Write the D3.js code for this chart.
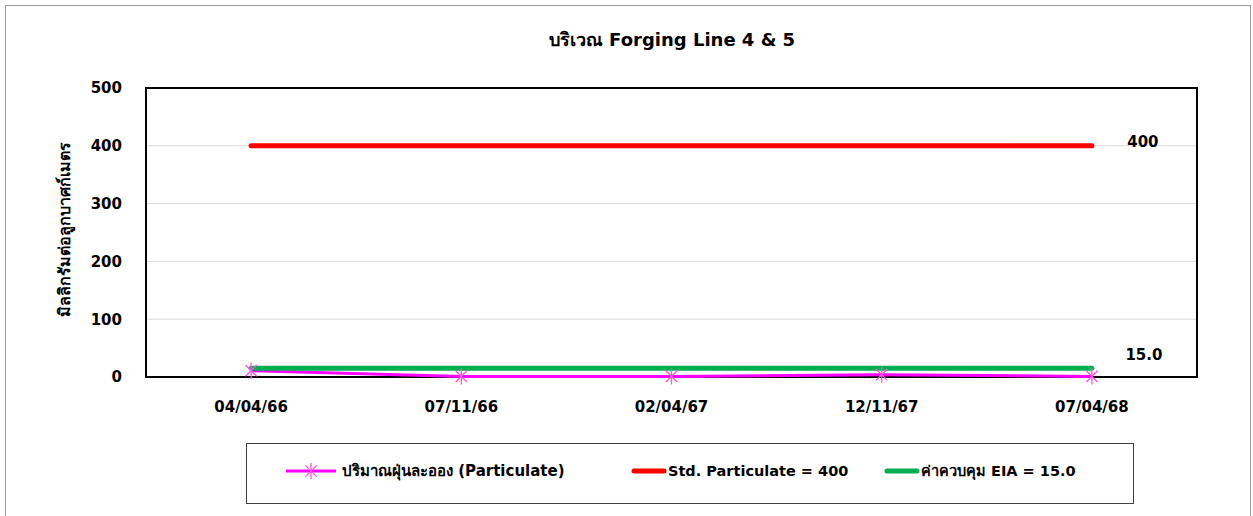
<!DOCTYPE html>
<html>
<head>
<meta charset="utf-8">
<script src="https://cdn.jsdelivr.net/npm/d3@7"></script>
<style>
  body { margin: 0; background: #fff; }
  text { font-family: Tahoma, "DejaVu Sans", "Noto Sans", sans-serif; fill: #000; }
</style>
</head>
<body>
<div id="chart"></div>
<script>
// data
const dates = ["04/04/66", "07/11/66", "02/04/67", "12/11/67", "07/04/68"];
const particulate = [11, 1, 1, 4, 1];
const stdParticulate = [400, 400, 400, 400, 400];
const eiaLimit = [15, 15, 15, 15, 15];
const yTicks = [0, 100, 200, 300, 400, 500];

const W = 1253, H = 516;
const plot = { left: 146, right: 1197, top: 88, bottom: 377 };

const svg = d3.select("#chart")
  .append("svg")
  .attr("width", W)
  .attr("height", H);

// outer frame
svg.append("rect")
  .attr("x", 5.5).attr("y", 5.5)
  .attr("width", 1245).attr("height", 520)
  .attr("fill", "none")
  .attr("stroke", "#9a9a9a");

svg.append("text")
  .attr("x", 672)
  .attr("y", 46)
  .attr("text-anchor", "middle")
  .attr("font-size", 18)
  .attr("font-weight", "bold")
  .text("บริเวณ Forging Line 4 & 5");

const x = d3.scaleBand()
  .domain(dates)
  .range([plot.left, plot.right]);

const y = d3.scaleLinear()
  .domain([0, 500])
  .range([plot.bottom, plot.top]);

const cx = d => x(d) + x.bandwidth() / 2;

// gridlines
svg.append("g")
  .selectAll("line")
  .data(yTicks.filter(t => t > 0 && t < 500))
  .enter()
  .append("line")
  .attr("x1", plot.left).attr("x2", plot.right)
  .attr("y1", d => y(d)).attr("y2", d => y(d))
  .attr("stroke", "#d9d9d9")
  .attr("stroke-width", 1);

// y axis labels
const yAxis = svg.append("g")
  .attr("transform", `translate(${plot.left},0)`)
  .call(d3.axisLeft(y).tickValues(yTicks).tickSize(0).tickPadding(24));
yAxis.select(".domain").remove();
yAxis.selectAll("text")
  .attr("font-size", 15)
  .attr("font-weight", "bold")
  .attr("font-family", "Tahoma, 'DejaVu Sans', sans-serif");

// x axis labels
const xAxis = svg.append("g")
  .attr("transform", `translate(0,${plot.bottom})`)
  .call(d3.axisBottom(x).tickSize(0).tickPadding(24));
xAxis.select(".domain").remove();
xAxis.selectAll("text")
  .attr("font-size", 15)
  .attr("font-weight", "bold")
  .attr("font-family", "Tahoma, 'DejaVu Sans', sans-serif");

// plot frame
svg.append("rect")
  .attr("x", plot.left).attr("y", plot.top)
  .attr("width", plot.right - plot.left)
  .attr("height", plot.bottom - plot.top)
  .attr("fill", "none")
  .attr("stroke", "#000")
  .attr("stroke-width", 2);

// y axis title
svg.append("text")
  .attr("transform", "translate(70,229) rotate(-90)")
  .attr("text-anchor", "middle")
  .attr("font-size", 16)
  .attr("font-weight", "bold")
  .text("มิลลิกรัมต่อลูกบาศก์เมตร");

const line = d3.line()
  .x((d, i) => cx(dates[i]))
  .y(d => y(d));

svg.append("path")
  .datum(stdParticulate)
  .attr("d", line)
  .attr("fill", "none")
  .attr("stroke", "#ff0000")
  .attr("stroke-width", 5)
  .attr("stroke-linecap", "round");

svg.append("path")
  .datum(particulate)
  .attr("d", line)
  .attr("fill", "none")
  .attr("stroke", "#ff00ff")
  .attr("stroke-width", 3);

svg.append("path")
  .datum(eiaLimit)
  .attr("d", line)
  .attr("fill", "none")
  .attr("stroke", "#00b050")
  .attr("stroke-width", 5)
  .attr("stroke-linecap", "round");

// star markers: an x with a vertical bar, like the excel "star" marker
function star(g, px, py, r) {
  const s = g.append("g").attr("transform", `translate(${px},${py})`);
  [45, 90, 135].forEach(a => {
    const rad = a * Math.PI / 180;
    s.append("line")
      .attr("x1", -r * Math.cos(rad)).attr("y1", -r * Math.sin(rad))
      .attr("x2", r * Math.cos(rad)).attr("y2", r * Math.sin(rad))
      .attr("stroke", "#ff55dd").attr("stroke-width", 1.3);
  });
}
const markers = svg.append("g");
particulate.forEach((v, i) => star(markers, cx(dates[i]), y(v), 8));

// end labels
svg.append("text")
  .attr("x", cx(dates[4]) + 51)
  .attr("y", y(stdParticulate[4]) + 1)
  .attr("text-anchor", "middle")
  .attr("font-size", 15)
  .attr("font-weight", "bold")
  .text(stdParticulate[4]);

svg.append("text")
  .attr("x", cx(dates[4]) + 52)
  .attr("y", y(eiaLimit[4]) - 8)
  .attr("text-anchor", "middle")
  .attr("font-size", 15)
  .attr("font-weight", "bold")
  .text(eiaLimit[4].toFixed(1));

// legend
svg.append("rect")
  .attr("x", 246.5).attr("y", 443.5)
  .attr("width", 887).attr("height", 60)
  .attr("fill", "none")
  .attr("stroke", "#404040");

const legend = svg.append("g");
const ly = 471;
legend.append("line")
  .attr("x1", 286).attr("x2", 336).attr("y1", ly).attr("y2", ly)
  .attr("stroke", "#ff00ff").attr("stroke-width", 3);
star(legend, 311, ly, 8);
legend.append("text").attr("x", 342).attr("y", ly + 5)
  .attr("font-size", 15).attr("font-weight", "bold")
  .text("ปริมาณฝุ่นละออง (Particulate)");

legend.append("line")
  .attr("x1", 634).attr("x2", 664).attr("y1", ly).attr("y2", ly)
  .attr("stroke", "#ff0000").attr("stroke-width", 5).attr("stroke-linecap", "round");
legend.append("text").attr("x", 668).attr("y", ly + 5)
  .attr("font-size", 14.5).attr("font-weight", "bold")
  .text("Std. Particulate = 400");

legend.append("line")
  .attr("x1", 887).attr("x2", 917).attr("y1", ly).attr("y2", ly)
  .attr("stroke", "#00b050").attr("stroke-width", 5).attr("stroke-linecap", "round");
legend.append("text").attr("x", 921).attr("y", ly + 5)
  .attr("font-size", 14.5).attr("font-weight", "bold")
  .text("ค่าควบคุม EIA = 15.0");
</script>
</body>
</html>
